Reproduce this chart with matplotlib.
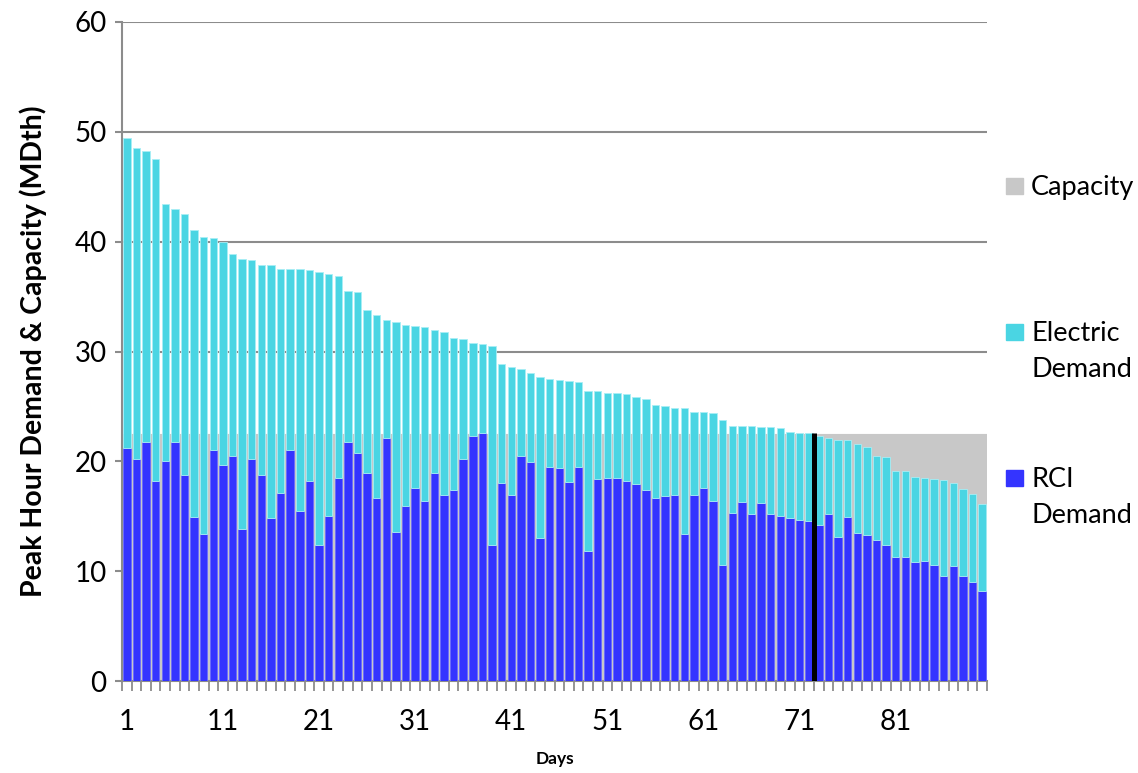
import matplotlib
matplotlib.use('Agg')
from matplotlib import pyplot as plt
from matplotlib.patches import Rectangle

days = list(range(1, 91))

rci_demand = [21.2, 20.2, 21.8, 18.2, 20.0, 21.8, 18.8, 14.9, 13.4, 21.0,
              19.7, 20.5, 13.8, 20.2, 18.8, 14.8, 17.1, 21.0, 15.5, 18.2,
              12.4, 15.0, 18.5, 21.8, 20.8, 18.9, 16.7, 22.1, 13.6, 15.9,
              17.6, 16.4, 18.9, 16.9, 17.4, 20.2, 22.3, 22.6, 12.4, 18.0,
              16.9, 20.5, 19.9, 13.0, 19.5, 19.4, 18.1, 19.5, 11.8, 18.4,
              18.5, 18.5, 18.2, 17.9, 17.4, 16.7, 16.8, 16.9, 13.4, 16.9,
              17.6, 16.4, 10.6, 15.3, 16.3, 15.2, 16.2, 15.2, 15.0, 14.8,
              14.7, 14.6, 14.2, 15.2, 13.1, 14.9, 13.5, 13.3, 12.8, 12.4,
              11.3, 11.3, 10.8, 10.9, 10.6, 9.6, 10.5, 9.6, 9.0, 8.2]

electric_demand = [28.2, 28.3, 26.5, 29.3, 23.4, 21.2, 23.7, 26.2, 27.0, 19.3,
                   20.3, 18.4, 24.6, 18.1, 19.1, 23.1, 20.4, 16.5, 22.0, 19.2,
                   24.8, 22.1, 18.4, 13.7, 14.6, 14.9, 16.6, 10.8, 19.1, 16.5,
                   14.7, 15.8, 13.1, 14.9, 13.8, 10.9, 8.5, 8.1, 18.1, 10.9,
                   11.7, 7.9, 8.1, 14.7, 8.0, 8.0, 9.2, 7.7, 14.6, 8.0,
                   7.7, 7.7, 7.9, 8.0, 8.3, 8.4, 8.2, 8.0, 11.5, 7.6,
                   6.9, 8.0, 13.2, 7.9, 6.9, 8.0, 6.9, 7.9, 8.0, 7.9,
                   7.9, 8.0, 8.1, 6.9, 8.8, 7.0, 8.1, 8.0, 7.7, 8.0,
                   7.8, 7.8, 7.8, 7.6, 7.8, 8.7, 7.5, 7.9, 8.0, 7.9]

capacity = 22.5
capacity_covers_through_day = 72

tick_days = [1, 11, 21, 31, 41, 51, 61, 71, 81]

cap_color = '#C8C8C8'
elec_color = '#4AD5E3'
rci_color = '#3434FF'
grid_color = '#8C8C8C'
font = 'Lato'

plt.rcParams['font.family'] = [font, 'DejaVu Sans']

fig = plt.figure(figsize=(11.38, 7.73), dpi=100)
ax = fig.add_axes([122/1138, 1 - 681/773, 865/1138, 659/773])

ax.bar(days, [capacity]*len(days), width=1.0, color=cap_color,
       edgecolor=cap_color, linewidth=0.8, zorder=1)
ax.bar(days, rci_demand, width=0.78, color=rci_color, edgecolor='#6A6AFF',
       linewidth=0.6, zorder=3)
ax.bar(days, electric_demand, bottom=rci_demand, width=0.78, color=elec_color,
       edgecolor='#A8EEF5', linewidth=0.6, zorder=3)

ax.vlines(capacity_covers_through_day + 0.5, 0, capacity + 0.1, color='black',
          linewidth=3.6, zorder=4)

ax.set_xlim(0.5, len(days) + 0.5)
ax.set_ylim(0, 60)
ax.set_yticks(range(0, 61, 10))
ax.yaxis.grid(True, color=grid_color, linewidth=1.5, zorder=0)
ax.set_axisbelow(True)

ax.set_xticks(tick_days)
ax.set_xticks([d + 0.5 for d in [0] + days], minor=True)
ax.tick_params(axis='x', which='major', length=0, pad=20, labelsize=20)
ax.tick_params(axis='x', which='minor', length=7, width=1.3, color=grid_color)
ax.tick_params(axis='y', length=5, width=1.5, color=grid_color, pad=6, labelsize=20)

for s in ['top', 'right']:
    ax.spines[s].set_visible(False)
for s in ['left', 'bottom']:
    ax.spines[s].set_color(grid_color)
    ax.spines[s].set_linewidth(1.5)

ax.set_ylabel('Peak Hour Demand & Capacity (MDth)', fontsize=20.5, fontweight='bold',
              labelpad=20)
ax.set_xlabel('Days', fontsize=12.5, fontweight='bold', labelpad=12)

# legend drawn by hand so the squares sit on the first line of each label
legend_items = [('Capacity', cap_color, 186), ('Electric\nDemand', elec_color, 332),
                ('RCI\nDemand', rci_color, 478)]
for label, color, ypix in legend_items:
    fig.add_artist(Rectangle((1006/1138, 1 - (ypix + 8)/773), 17/1138, 16/773,
                             transform=fig.transFigure, color=color))
    fig.text(1031/1138, 1 - (ypix - 11)/773, label, fontsize=19.5, va='top',
             ha='left', linespacing=1.55)

fig.savefig('out.png', dpi=100)
